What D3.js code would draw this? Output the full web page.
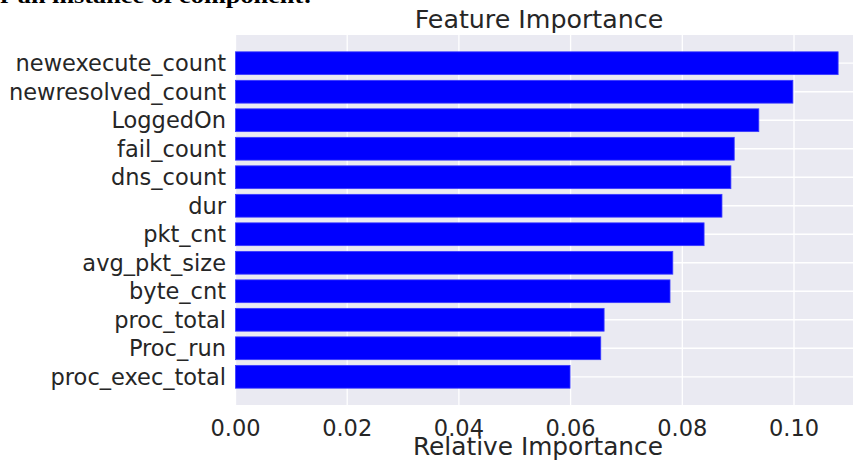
<!DOCTYPE html>
<html>
<head>
<meta charset="utf-8">
<script src="https://cdn.jsdelivr.net/npm/d3@7"></script>
<style>
  html, body { margin: 0; padding: 0; background: #ffffff; }
  svg { display: block; }
</style>
</head>
<body>
<div id="chart"></div>
<script>
// Data (bottom to top order as drawn by barh)
const features = ["proc_exec_total", "Proc_run", "proc_total", "byte_cnt", "avg_pkt_size",
  "pkt_cnt", "dur", "dns_count", "fail_count", "LoggedOn", "newresolved_count", "newexecute_count"];
const importances = [0.0599, 0.0654, 0.0660, 0.0778, 0.0783,
  0.0839, 0.0871, 0.0887, 0.0893, 0.0937, 0.0998, 0.1079];
const xTicks = [0.00, 0.02, 0.04, 0.06, 0.08, 0.10];
const titleText = "Feature Importance";
const xLabelText = "Relative Importance";
const captionText = "r an instance of component:";

(function () {
const W = 853, H = 460;
const svg = d3.select("#chart").append("svg")
  .attr("width", W).attr("height", H)
  .style("font-family", "'DejaVu Sans', sans-serif");

const plotLeft = 235.5, plotTop = 35, plotBottom = 405;
const pxPerUnit = 5585;
const xMax = 0.1134;

const x = d3.scaleLinear().domain([0, xMax]).range([plotLeft, plotLeft + xMax * pxPerUnit]);
const y = d3.scaleLinear().domain([-0.99, features.length - 1 + 0.99]).range([plotBottom, plotTop]);

// clipped caption text at top (only its lower part is visible)
svg.append("text")
  .attr("x", 0).attr("y", 3)
  .attr("font-family", "'Liberation Serif', 'DejaVu Serif', serif")
  .attr("font-weight", "bold")
  .attr("font-size", 21)
  .attr("textLength", 312)
  .attr("lengthAdjust", "spacingAndGlyphs")
  .attr("fill", "#000")
  .text(captionText);

// plot background
svg.append("rect")
  .attr("x", x(0)).attr("y", plotTop)
  .attr("width", x(xMax) - x(0)).attr("height", plotBottom - plotTop)
  .attr("fill", "#EAEAF2");

// grid
const grid = svg.append("g").attr("stroke", "#ffffff").attr("stroke-width", 1.3);
grid.selectAll("line.v").data(xTicks).join("line")
  .attr("class", "v")
  .attr("x1", d => x(d)).attr("x2", d => x(d))
  .attr("y1", plotTop).attr("y2", plotBottom);
grid.selectAll("line.h").data(features).join("line")
  .attr("class", "h")
  .attr("x1", x(0)).attr("x2", x(xMax))
  .attr("y1", (d, i) => y(i)).attr("y2", (d, i) => y(i));

// bars
const barH = y(0) - y(0.8);
svg.append("g").selectAll("rect").data(importances).join("rect")
  .attr("x", x(0))
  .attr("y", (d, i) => y(i + 0.4))
  .attr("width", d => x(d) - x(0))
  .attr("height", barH)
  .attr("fill", "#0000ff")
  .attr("stroke", "#3b3bff")
  .attr("stroke-width", 0.8);

// y tick labels
svg.append("g").selectAll("text").data(features).join("text")
  .attr("x", 226)
  .attr("y", (d, i) => y(i))
  .attr("dy", "0.36em")
  .attr("text-anchor", "end")
  .attr("font-size", 22.5)
  .attr("fill", "#262626")
  .text(d => d);

// x tick labels
svg.append("g").selectAll("text").data(xTicks).join("text")
  .attr("x", d => x(d))
  .attr("y", 436)
  .attr("text-anchor", "middle")
  .attr("font-size", 22.5)
  .attr("fill", "#262626")
  .text(d => d3.format(".2f")(d));

// title
svg.append("text")
  .attr("x", 539).attr("y", 28)
  .attr("text-anchor", "middle")
  .attr("font-size", 25.3)
  .attr("fill", "#262626")
  .text(titleText);

// x label
svg.append("text")
  .attr("x", 538).attr("y", 455)
  .attr("text-anchor", "middle")
  .attr("font-size", 24.8)
  .attr("fill", "#262626")
  .text(xLabelText);
})();
</script>
</body>
</html>
